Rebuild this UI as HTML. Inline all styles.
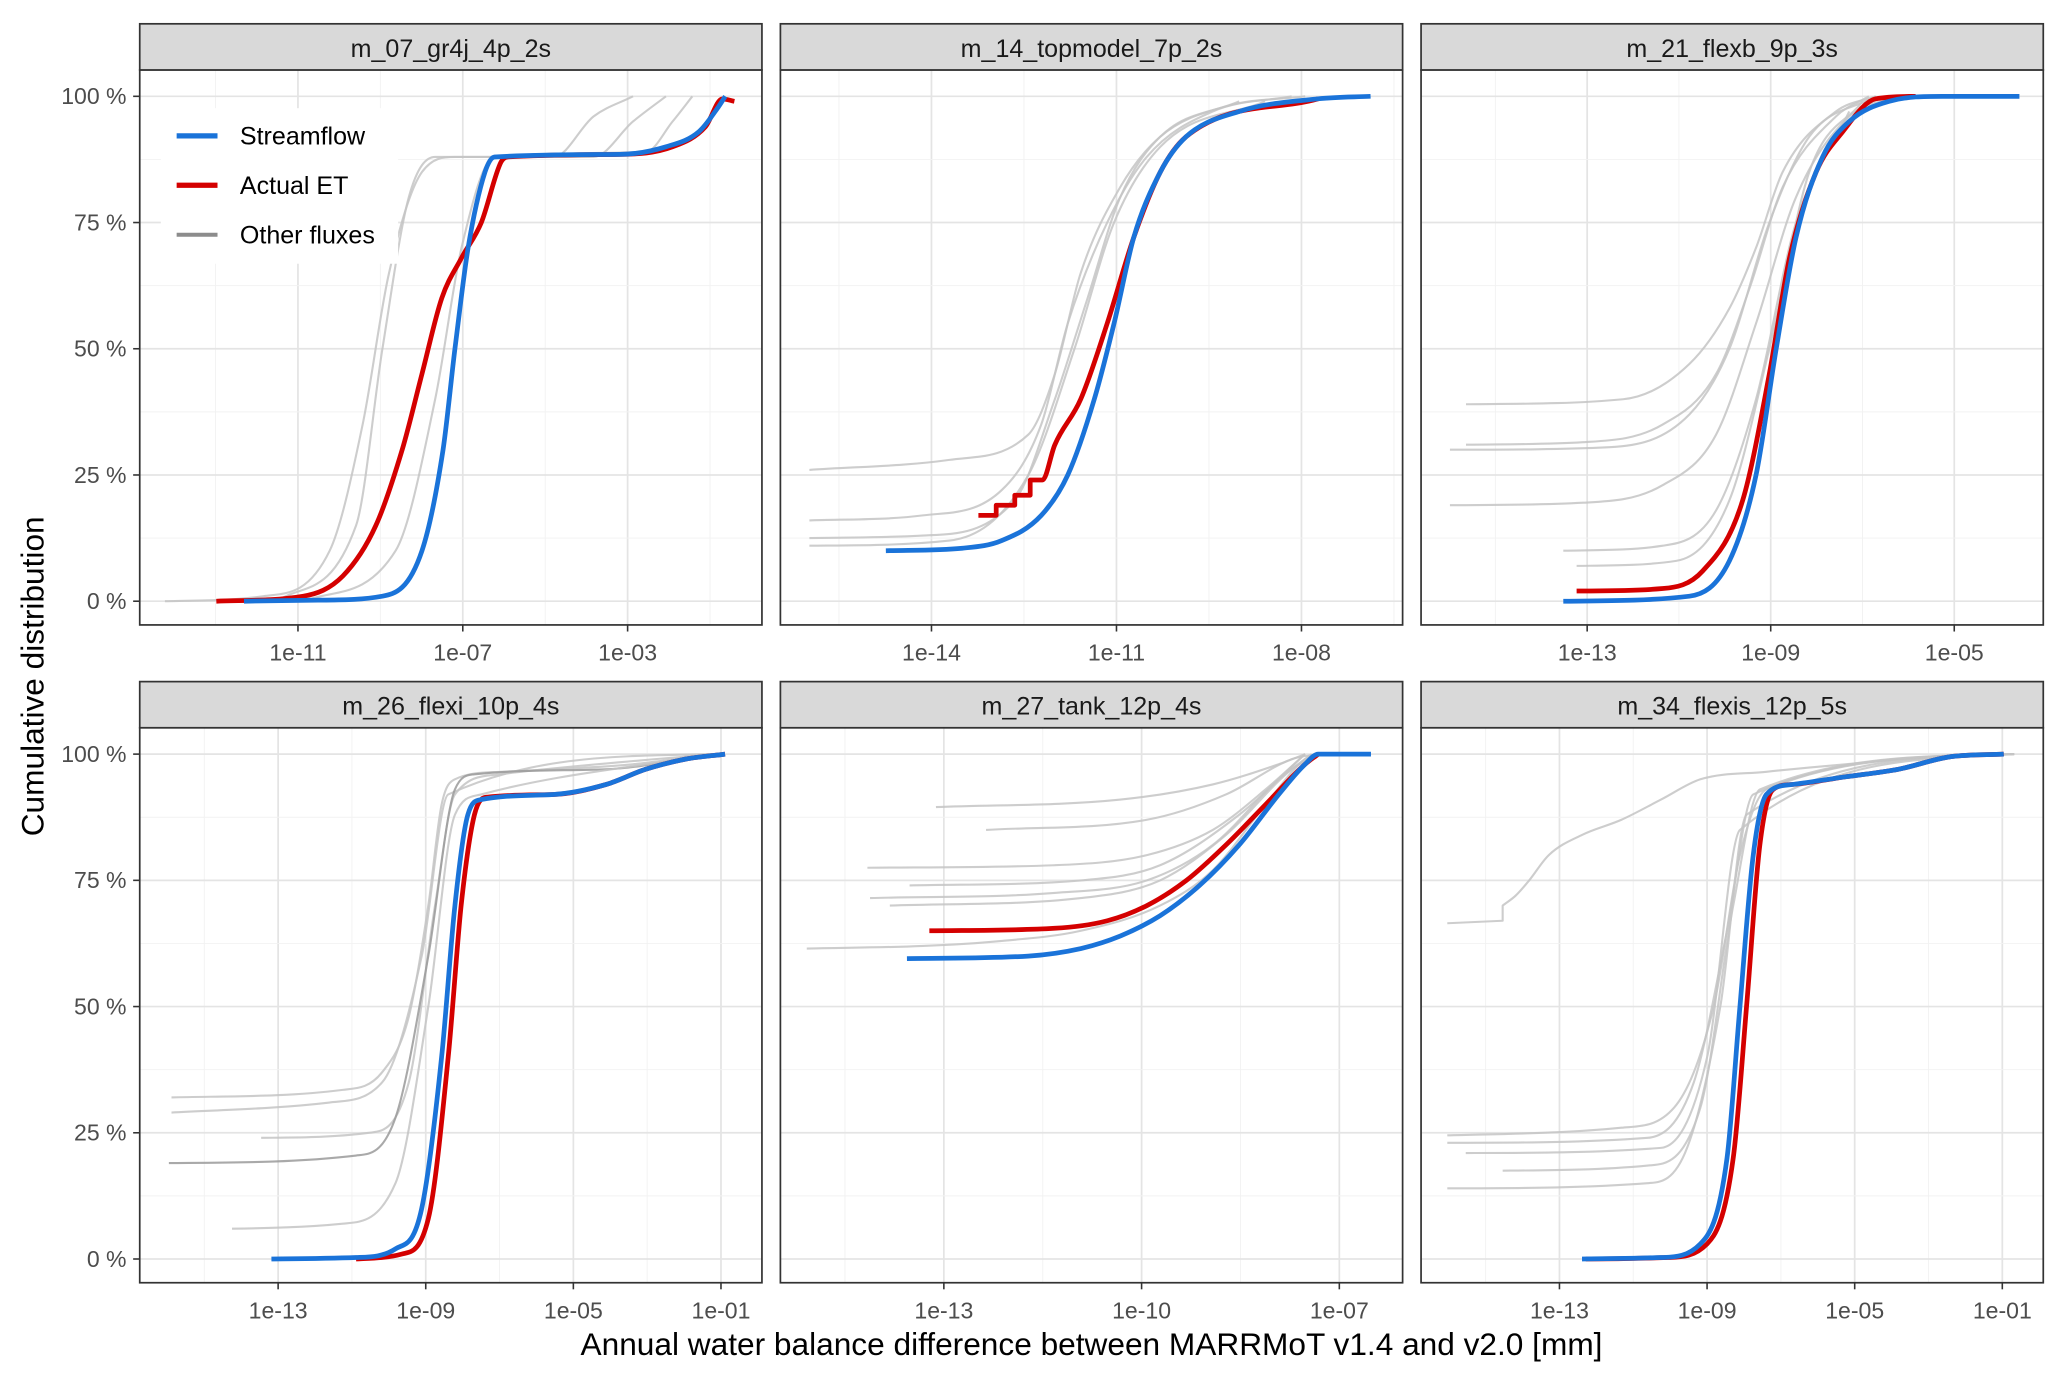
<!DOCTYPE html>
<html><head><meta charset="utf-8"><style>
html,body{margin:0;padding:0;background:#fff}
svg{display:block}
text{font-family:"Liberation Sans",Arial,sans-serif}
</style></head><body>
<svg id="chart" width="2067" height="1383" viewBox="0 0 1568 1049" xmlns="http://www.w3.org/2000/svg">
<rect width="1568" height="1049" fill="#fff"/>
<text x="33" y="513" transform="rotate(-90 33 513)" text-anchor="middle" font-size="24" fill="#000">Cumulative distribution</text>
<text x="828" y="1028" text-anchor="middle" font-size="24" fill="#000">Annual water balance difference between MARRMoT v1.4 and v2.0 [mm]</text>
</svg>
<script>
// Panel titles and axis ticks (log10 of mm)
const panelTitles = ["m_07_gr4j_4p_2s","m_14_topmodel_7p_2s","m_21_flexb_9p_3s","m_26_flexi_10p_4s","m_27_tank_12p_4s","m_34_flexis_12p_5s"];
const xDomains = [[-14.84,0.26],[-16.45,-6.36],[-16.62,-3.06],[-16.75,0.11],[-15.48,-6.04],[-16.75,0.11]];
const xTicks = [[-11,-7,-3],[-14,-11,-8],[-13,-9,-5],[-13,-9,-5,-1],[-13,-10,-7],[-13,-9,-5,-1]];
const yTicks = [0,25,50,75,100];
const yTickLabels = ["0 %","25 %","50 %","75 %","100 %"];

// Series: [log10(diff), cumulative %]
const streamflow = [
 [[-12.31,0],[-10.5,0.2],[-8.95,1],[-7.99,10],[-7.48,30],[-7.19,50],[-6.87,70],[-6.46,85],[-6.23,88],[-3.19,88.5],[-2.07,90],[-1.27,93],[-0.79,98],[-0.63,100]],
 [[-14.74,10],[-13.5,10.5],[-12.86,12],[-12.22,17],[-11.79,25],[-11.36,40],[-11.04,55],[-10.72,72],[-10.29,85],[-9.87,92],[-9.01,97],[-7.73,99.5],[-6.88,100]],
 [[-13.52,0],[-10.77,1],[-9.9,8],[-9.32,25],[-8.88,50],[-8.45,72],[-7.87,88],[-7.29,95],[-6.42,99],[-5.26,100],[-3.58,100]],
 [[-13.18,0],[-10.89,0.3],[-9.82,2],[-9.11,10],[-8.57,40],[-8.21,70],[-7.86,88],[-7.5,91],[-5.54,92],[-4.11,94],[-3.04,97],[-1.96,99],[-0.89,100]],
 [[-13.56,59.5],[-11.72,60],[-10.92,61.5],[-10.32,64],[-9.72,68],[-9.12,74],[-8.52,82],[-7.92,92],[-7.52,98],[-7.32,100],[-6.52,100]],
 [[-12.39,0],[-10.25,0.3],[-9.18,3],[-8.46,20],[-8.11,50],[-7.75,80],[-7.39,92],[-6.68,94],[-5.25,95.5],[-3.82,97],[-2.39,99.5],[-0.96,100]]
];
const actualET = [
 [[-12.98,0],[-10.87,1],[-9.91,5],[-9.11,15],[-8.47,30],[-7.99,45],[-7.51,60],[-7.03,68],[-6.55,75],[-6.07,87],[-5.91,88],[-3.19,88.5],[-1.91,90],[-1.11,94],[-0.70,99.5],[-0.41,99]],
 [[-13.24,17],[-12.95,17],[-12.95,19],[-12.65,19],[-12.65,21],[-12.4,21],[-12.4,24],[-12.2,24],[-12.0,31],[-11.58,40],[-11.15,55],[-10.72,72],[-10.29,85],[-9.87,92],[-7.73,99.5]],
 [[-13.23,2],[-11.35,2.5],[-10.48,6],[-9.61,20],[-9.03,45],[-8.59,68],[-8.01,85],[-7.43,93],[-6.71,99.5],[-5.84,100]],
 [[-10.89,0],[-9.64,1],[-8.93,8],[-8.39,40],[-8.04,70],[-7.68,88],[-7.32,91.5],[-5.54,92],[-4.11,94],[-3.04,97],[-1.96,99],[-0.89,100]],
 [[-13.22,65],[-11.32,65.5],[-10.52,67],[-9.92,70],[-9.32,75],[-8.72,82],[-8.12,90],[-7.52,98],[-7.32,100]],
 [[-12.29,0],[-10.07,0.3],[-9.0,3],[-8.29,20],[-7.93,50],[-7.57,82],[-7.21,93],[-6.68,94],[-5.25,95.5],[-3.82,97],[-2.39,99.5],[-0.96,100]]
];
const otherFluxes = [
 [[[-14.23,0],[-11.83,1],[-10.23,10],[-9.43,35],[-8.79,65],[-7.99,85],[-7.19,88],[-3.83,88],[-2.87,95],[-2.07,100]],
  [[-11.51,0],[-9.59,15],[-8.95,50],[-8.31,80],[-7.67,88],[-4.79,88],[-3.83,96],[-2.87,100]],
  [[-10.87,0],[-8.63,10],[-7.67,40],[-7.03,70],[-6.23,88],[-2.55,89],[-1.91,95],[-1.43,100]]],
 [[[-15.98,26],[-13.71,28],[-12.43,33],[-12.0,45],[-11.58,65],[-10.94,82],[-10.29,92],[-9.23,98],[-7.94,100]],
  [[-15.98,16],[-14.14,17],[-12.86,22],[-12.22,35],[-11.79,55],[-11.15,75],[-10.51,88],[-9.44,97],[-8.16,100]],
  [[-15.98,12.5],[-14.14,13],[-12.65,20],[-12.0,40],[-11.47,60],[-10.94,80],[-10.29,92],[-9.01,99]],
  [[-15.98,11],[-13.71,12],[-12.43,25],[-11.68,50],[-11.04,75],[-10.29,90],[-8.59,99]]],
 [[[-15.64,39],[-12.22,40],[-10.77,47],[-9.9,58],[-9.32,70],[-8.74,85],[-7.58,97],[-6.71,100]],
  [[-15.64,31],[-13.09,31.5],[-11.35,35],[-10.19,45],[-9.46,62],[-8.74,82],[-7.58,96],[-6.86,100]],
  [[-15.99,30],[-12.51,30.5],[-10.77,37],[-9.9,50],[-9.03,75],[-8.16,92],[-6.71,100]],
  [[-15.99,19],[-13.09,19.5],[-11.35,23],[-10.19,33],[-9.32,55],[-8.45,80],[-7.29,96],[-6.13,100]],
  [[-13.52,10],[-11.35,11],[-10.19,18],[-9.32,40],[-8.45,75],[-7.29,97]],
  [[-13.23,7],[-11.06,8],[-9.9,20],[-9.03,50],[-8.16,85],[-7.0,99]]],
 [[[-15.89,32],[-11.25,33.5],[-10.18,37],[-9.46,48],[-8.93,70],[-8.57,90],[-8.21,95],[-6.96,96.5],[-3.39,98],[-1.25,100]],
  [[-15.89,29],[-11.61,31],[-10.18,35],[-9.11,60],[-8.39,92],[-1.25,100]],
  [[-13.46,24],[-10.54,25],[-9.46,35],[-8.75,70],[-8.21,92],[-7.0,96],[-1.25,100]],
  [[-15.96,19],[-10.89,20.5],[-9.82,28],[-8.93,60],[-8.21,93],[-7.68,96],[-4.11,97],[-1.25,100]],
  [[-14.25,6],[-11.25,7],[-9.82,15],[-8.93,50],[-8.21,88],[-7.5,92],[-1.25,100]]],
 [[[-15.08,61.5],[-13.32,62],[-12.12,63],[-10.92,65],[-9.72,70],[-8.92,77],[-8.12,90],[-7.52,99],[-7.32,100]],
  [[-14.16,77.5],[-11.32,78],[-9.92,80],[-8.92,85],[-8.12,93],[-7.52,100]],
  [[-13.12,89.5],[-10.32,91],[-8.92,94],[-7.92,98],[-7.52,100]],
  [[-12.36,85],[-9.92,87],[-8.72,92],[-7.72,99],[-7.32,100]],
  [[-14.12,71.5],[-11.32,72.5],[-9.92,75],[-8.92,82],[-7.92,95],[-7.42,100]],
  [[-13.82,70],[-10.92,71.5],[-9.72,75],[-8.72,84],[-7.72,97],[-7.32,100]],
  [[-13.52,74],[-10.92,75],[-9.72,78],[-8.52,88],[-7.52,100]]],
 [[[-16.04,66.5],[-14.54,67],[-14.54,70],[-14.18,72],[-13.82,75],[-13.29,80],[-12.39,84],[-11.32,87],[-10.25,91],[-9.18,95],[-7.39,96.5],[-5.25,98],[-2.75,99.5],[-0.68,100]],
  [[-16.04,24.5],[-11.32,26],[-9.89,30],[-8.82,50],[-8.11,80],[-7.39,93],[-0.68,100]],
  [[-16.04,23],[-10.61,24],[-9.36,35],[-8.46,65],[-7.75,92],[-0.68,100]],
  [[-16.04,14],[-10.61,15],[-9.54,22],[-8.64,50],[-7.93,88],[-0.68,100]],
  [[-14.54,17.5],[-10.61,18.5],[-9.18,30],[-8.29,70],[-7.57,93],[-0.68,100]],
  [[-15.54,21],[-10.25,22],[-9.0,40],[-8.11,85],[-0.68,100]]]
];

const NS="http://www.w3.org/2000/svg";
const svg=document.getElementById('chart');
function mk(tag,attrs,parent){const e=document.createElementNS(NS,tag);for(const k in attrs)e.setAttribute(k,attrs[k]);(parent||svg).appendChild(e);return e;}
const colsX=[106,592,1078], W=472;
const rows=[{strip:18,top:53,bot:474},{strip:517,top:552,bot:973}];
function fmt(v){return "1e"+(v<0?"-":"")+String(Math.abs(v)).padStart(2,"0");}

// monotone cubic path through pixel points (split where x does not increase)
function smoothPath(P){
  let d='M'+P[0][0].toFixed(1)+','+P[0][1].toFixed(1);
  let segs=[],cur=[P[0]];
  for(let k=1;k<P.length;k++){
    if(P[k][0]<=cur[cur.length-1][0]+0.01){segs.push(cur);cur=[P[k]];}
    else cur.push(P[k]);
  }
  segs.push(cur);
  segs.forEach((s,si)=>{
    if(si>0) d+='L'+s[0][0].toFixed(1)+','+s[0][1].toFixed(1);
    const n=s.length; if(n<2)return;
    const dx=[],m=[];
    for(let k=0;k<n-1;k++){dx.push(s[k+1][0]-s[k][0]);m.push((s[k+1][1]-s[k][1])/dx[k]);}
    const t=new Array(n);
    t[0]=m[0];t[n-1]=m[n-2];
    for(let k=1;k<n-1;k++){t[k]=(m[k-1]*m[k]<=0)?0:(m[k-1]+m[k])/2;}
    for(let k=0;k<n-1;k++){
      if(m[k]===0){t[k]=0;t[k+1]=0;continue;}
      const a=t[k]/m[k],b=t[k+1]/m[k],h=a*a+b*b;
      if(h>9){const tau=3/Math.sqrt(h);t[k]=tau*a*m[k];t[k+1]=tau*b*m[k];}
    }
    for(let k=0;k<n-1;k++){
      const h=dx[k]/3;
      d+='C'+(s[k][0]+h).toFixed(1)+','+(s[k][1]+t[k]*h).toFixed(1)+' '+(s[k+1][0]-h).toFixed(1)+','+(s[k+1][1]-t[k+1]*h).toFixed(1)+' '+s[k+1][0].toFixed(1)+','+s[k+1][1].toFixed(1);
    }
  });
  return d;
}

panelTitles.forEach((title,i)=>{
  const L=colsX[i%3], R=L+W, row=rows[Math.floor(i/3)];
  const [d0,d1]=xDomains[i];
  const xs=v=>L+(v-d0)/(d1-d0)*W;
  const y0=row.bot-18, y100=row.top+20;
  const ys=p=>y0+(y100-y0)*p/100;
  const g=mk('g',{});
  
  
  const cid='clip'+i;
  const cp=mk('clipPath',{id:cid},g); mk('rect',{x:L,y:row.top,width:W,height:row.bot-row.top},cp);
  const gg=mk('g',{},g);
  
  
  const step=xTicks[i].length>1?xTicks[i][1]-xTicks[i][0]:4;
  for(let v=xTicks[i][0]-step*5;v<=d1+step;v+=step/2){
    if(v<d0||v>d1)continue;
    const major=xTicks[i].includes(v);
    const x=xs(v);
    mk('line',{x1:x,x2:x,y1:row.top,y2:row.bot,stroke:major?'#e4e4e4':'#f2f2f2','stroke-width':major?1.3:0.7},gg);
  }
  for(let p=-12.5;p<=112.5;p+=12.5){
    const y=ys(p); if(y<row.top||y>row.bot)continue;
    const major=p%25===0;
    mk('line',{x1:L,x2:R,y1:y,y2:y,stroke:major?'#e4e4e4':'#f2f2f2','stroke-width':major?1.3:0.7},gg);
  }
  const pathOf=pts=>smoothPath(pts.map(q=>[xs(q[0]),ys(q[1])]));
  const lg=mk('g',{'clip-path':'url(#'+cid+')'},g);
  otherFluxes[i].forEach((s,k)=>{
    const e=mk('path',{d:pathOf(s),fill:'none',stroke:(i===3&&k===3)?'#9a9a9a':'#c4c4c4','stroke-opacity':0.85,'stroke-width':1.6,'stroke-linejoin':'round'},lg);
    
    
  });
  const r=mk('path',{d:pathOf(actualET[i]),fill:'none',stroke:'#d40000','stroke-width':3.6,'stroke-linejoin':'round'},lg);
  
  
  const b=mk('path',{d:pathOf(streamflow[i]),fill:'none',stroke:'#1a73d9','stroke-width':3.6,'stroke-linejoin':'round'},lg);
  
  
  mk('rect',{x:L,y:row.top,width:W,height:row.bot-row.top,fill:'none',stroke:'#333','stroke-width':1.3},g);
  const st=mk('rect',{x:L,y:row.strip,width:W,height:row.top-row.strip,fill:'#d9d9d9',stroke:'#333','stroke-width':1.3},g);
  
  
  const tt=mk('text',{x:L+W/2,y:row.strip+25,'text-anchor':'middle','font-size':19,fill:'#1a1a1a'},g);
  tt.textContent=title;
  
  
  xTicks[i].forEach(v=>{
    const x=xs(v);
    mk('line',{x1:x,x2:x,y1:row.bot,y2:row.bot+5,stroke:'#333','stroke-width':1.2},g);
    const t=mk('text',{x:x,y:row.bot+27,'text-anchor':'middle','font-size':17.5,fill:'#4d4d4d'},g);
    t.textContent=fmt(v);
    
    
  });
  if(i%3===0){
    yTicks.forEach((p,k)=>{
      const y=ys(p);
      mk('line',{x1:L-5,x2:L,y1:y,y2:y,stroke:'#333','stroke-width':1.2},g);
      const t=mk('text',{x:L-10,y:y+6,'text-anchor':'end','font-size':17.5,fill:'#4d4d4d'},g);
      t.textContent=yTickLabels[k];
      
      
    });
  }
});
const legendLabels=["Streamflow","Actual ET","Other fluxes"];
const legendColors=["#1a73d9","#d40000","#8c8c8c"];
const lgd=mk('g',{});


mk('rect',{x:122,y:82,width:180,height:118,fill:'#fff'},lgd);
legendLabels.forEach((s,k)=>{
  const y=103+k*37.5;
  mk('line',{x1:134,x2:165,y1:y,y2:y,stroke:legendColors[k],'stroke-width':k==2?3:4},lgd);
  const t=mk('text',{x:182,y:y+6.5,'font-size':19,fill:'#000'},lgd);
  t.textContent=s;
  
  
});
</script>
</body></html>
